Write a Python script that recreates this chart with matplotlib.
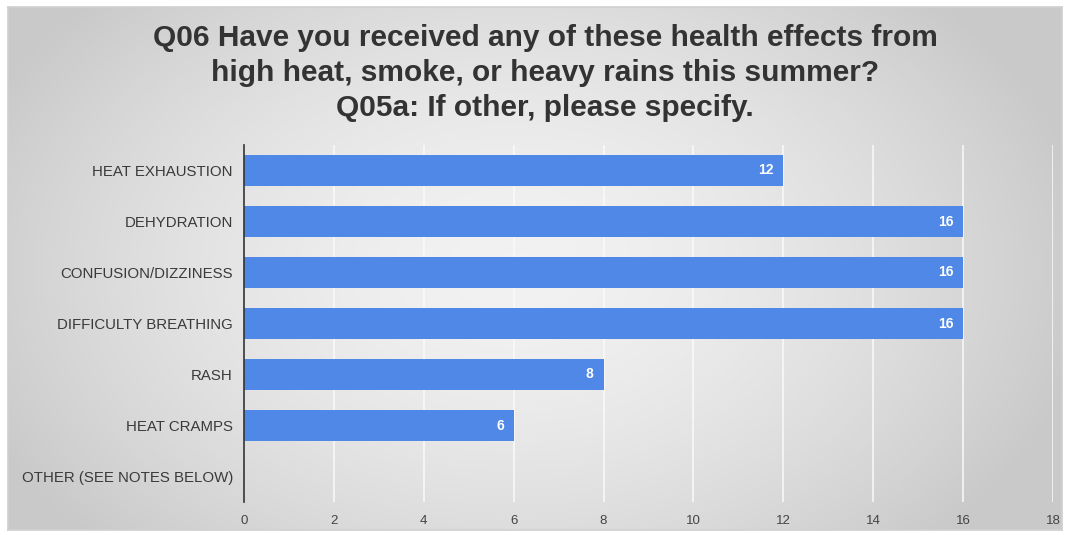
import numpy as np
import matplotlib
matplotlib.use("Agg")
import matplotlib.pyplot as plt

categories = ["HEAT EXHAUSTION", "DEHYDRATION", "CONFUSION/DIZZINESS",
              "DIFFICULTY BREATHING", "RASH", "HEAT CRAMPS", "OTHER (SEE NOTES BELOW)"]
values = [12, 16, 16, 16, 8, 6, 0]
xticks = [0, 2, 4, 6, 8, 10, 12, 14, 16, 18]
title = ("Q06 Have you received any of these health effects from\n"
         "high heat, smoke, or heavy rains this summer?\n"
         "Q05a: If other, please specify.")

plt.rcParams['font.family'] = ['Liberation Sans', 'DejaVu Sans']

W, H = 1069, 535
fig = plt.figure(figsize=(W / 100, H / 100), dpi=100)
fig.patch.set_facecolor('white')

# background radial gradient inside border
bx0, by0, bx1, by1 = 8, 7, 1062, 530
bg = fig.add_axes([bx0 / W, 1 - by1 / H, (bx1 - bx0) / W, (by1 - by0) / H], zorder=-10)
yy, xx = np.mgrid[0:1:300j, 0:1:600j]
d = np.sqrt(((xx - 0.48) / 0.55) ** 2 + ((yy - 0.5) / 0.75) ** 2)
d = np.clip(d, 0, 1)
val = 0.95 - 0.16 * d ** 1.6
bg.imshow(np.dstack([val, val, val]), aspect='auto', extent=[0, 1, 0, 1], interpolation='bilinear')
bg.set_xticks([]); bg.set_yticks([])
for s in bg.spines.values():
    s.set_color('#d0d0d0'); s.set_linewidth(1.2)

# main axes
ax_l, ax_r, ax_t, ax_b = 244, 1053, 145, 502
ax = fig.add_axes([ax_l / W, 1 - ax_b / H, (ax_r - ax_l) / W, (ax_b - ax_t) / H])
ax.patch.set_alpha(0)
n = len(categories)
ypos = np.arange(n)
ax.barh(ypos, values, height=0.59, color='#4f88e6', zorder=3)
ax.set_ylim(n - 0.5, -0.5)
ax.set_xlim(0, 18)
ax.set_xticks(xticks)
ax.set_xticklabels([str(t) for t in xticks], fontsize=9.5, color='#444444')
ax.set_yticks(ypos)
ax.set_yticklabels(categories, fontsize=10.8, color='#3a3a3a')
ax.tick_params(length=0)
ax.tick_params(axis='y', pad=8)
ax.tick_params(axis='x', pad=9)
ax.grid(axis='x', color='#fafafa', linewidth=1.1, zorder=1)
for s in ['top', 'right', 'bottom']:
    ax.spines[s].set_visible(False)
ax.spines['left'].set_color('#333333')
ax.spines['left'].set_linewidth(1.2)
ax.spines['left'].set_zorder(4)

for y, v in zip(ypos, values):
    if v > 0:
        ax.text(v - 0.22, y, str(v), ha='right', va='center', color='white',
                fontsize=10, fontweight='bold', zorder=5)

fig.text(545 / W, 1 - 73 / H, title, ha='center', va='center', fontsize=21.5,
         fontweight='bold', color='#333333', linespacing=1.32)

fig.savefig('out.png', dpi=100)
